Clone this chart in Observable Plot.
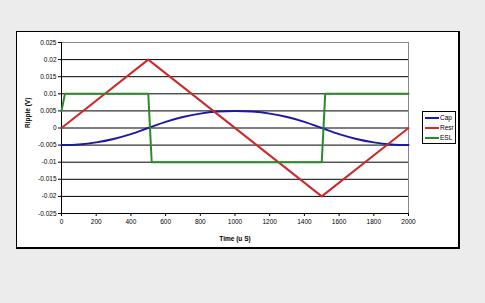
<!DOCTYPE html>
<html>
<head>
<meta charset="utf-8">
<script src="https://cdn.jsdelivr.net/npm/d3@7"></script>
<script src="https://cdn.jsdelivr.net/npm/@observablehq/plot@0.6"></script>
<style>
  html, body { margin: 0; padding: 0; background: #ececec; width: 485px; height: 303px; overflow: hidden; }
  #box { position: absolute; left: 16px; top: 31px; width: 441px; height: 215px; background: #fff; border: 1px solid #000; border-right-width: 2px; border-bottom-width: 2px; }
  #legend { position: absolute; left: 405px; top: 79px; width: 32px; height: 31px; border: 1px solid #000; background: #fff; font: 6.5px "Liberation Sans", Arial, sans-serif; }
  .item { position: absolute; left: 2px; height: 8px; }
  .item span.sw { position: absolute; left: 0; top: 4px; width: 14px; height: 2px; }
  .item span.tx { position: absolute; left: 15px; top: 0; line-height: 9px; }
</style>
</head>
<body>
<div id="box"><div id="chart"></div><div id="legend"></div></div>
<script>
// Time axis (uS)
const capTime = [0,100,200,300,400,500,600,700,800,900,1000,1100,1200,1300,1400,1500,1600,1700,1800,1900,2000];
const capValues = [-0.005,-0.0048,-0.0042,-0.0032,-0.0018,0,0.0018,0.0032,0.0042,0.0048,0.005,0.0048,0.0042,0.0032,0.0018,0,-0.0018,-0.0032,-0.0042,-0.0048,-0.005];
const resrTime = [0,500,1500,2000];
const resrValues = [0,0.02,-0.02,0];
const eslTime = [0,20,500,520,1500,1520,2000];
const eslValues = [0.005,0.01,0.01,-0.01,-0.01,0.01,0.01];
const seriesNames = ["Cap","Resr","ESL"];
const seriesColors = ["#1a1aa6","#cc2a2a","#2a8a2a"];
const xTicks = [0,200,400,600,800,1000,1200,1400,1600,1800,2000];
const yTicks = [-0.025,-0.02,-0.015,-0.01,-0.005,0,0.005,0.01,0.015,0.02,0.025];
const xLabel = "Time (u S)";
const yLabel = "Ripple (V)";

const cap = capTime.map((t,i) => ({t, v: capValues[i]}));
const resr = resrTime.map((t,i) => ({t, v: resrValues[i]}));
const esl = eslTime.map((t,i) => ({t, v: eslValues[i]}));
const grid = yTicks.filter(v => v > -0.025 && v < 0.025);

const chart = Plot.plot({
  width: 441, height: 215,
  marginLeft: 44, marginRight: 50, marginTop: 10, marginBottom: 34,
  style: { fontFamily: "'Liberation Sans', Arial, sans-serif", fontSize: "6.5px", background: "#fff", overflow: "visible" },
  x: { domain: [0,2000] },
  y: { domain: [-0.025,0.025] },
  marks: [
    Plot.ruleY(grid, { stroke: "#000", strokeWidth: 1 }),
    Plot.ruleY([0.025], { stroke: "#888", strokeWidth: 1 }),
    Plot.ruleX([2000], { stroke: "#888", strokeWidth: 1 }),
    Plot.axisY({ ticks: yTicks, tickFormat: d => String(d), tickSize: 3, tickPadding: 2, label: null, stroke: "#000" }),
    Plot.axisX({ ticks: xTicks, tickFormat: d => String(d), tickSize: 3, tickPadding: 3, label: null }),
    Plot.ruleX([0], { stroke: "#000", strokeWidth: 1 }),
    Plot.ruleY([-0.025], { stroke: "#000", strokeWidth: 1 }),
    Plot.line(cap, { x: "t", y: "v", stroke: seriesColors[0], strokeWidth: 2, curve: "monotone-x" }),
    Plot.line(resr, { x: "t", y: "v", stroke: seriesColors[1], strokeWidth: 2 }),
    Plot.line(esl, { x: "t", y: "v", stroke: seriesColors[2], strokeWidth: 2 }),
    Plot.text([xLabel], { frameAnchor: "bottom", dy: 27, fontWeight: "bold", fontSize: 6.5 }),
    Plot.text([yLabel], { frameAnchor: "left", dx: -34, rotate: -90, fontWeight: "bold", fontSize: 6.5 })
  ]
});
document.getElementById("chart").appendChild(chart);

const leg = document.getElementById("legend");
seriesNames.forEach((n,i) => {
  const d = document.createElement("div");
  d.className = "item";
  d.style.top = (1 + i*10) + "px";
  d.innerHTML = `<span class="sw" style="background:${seriesColors[i]}"></span><span class="tx">${n}</span>`;
  leg.appendChild(d);
});
</script>
</body>
</html>
